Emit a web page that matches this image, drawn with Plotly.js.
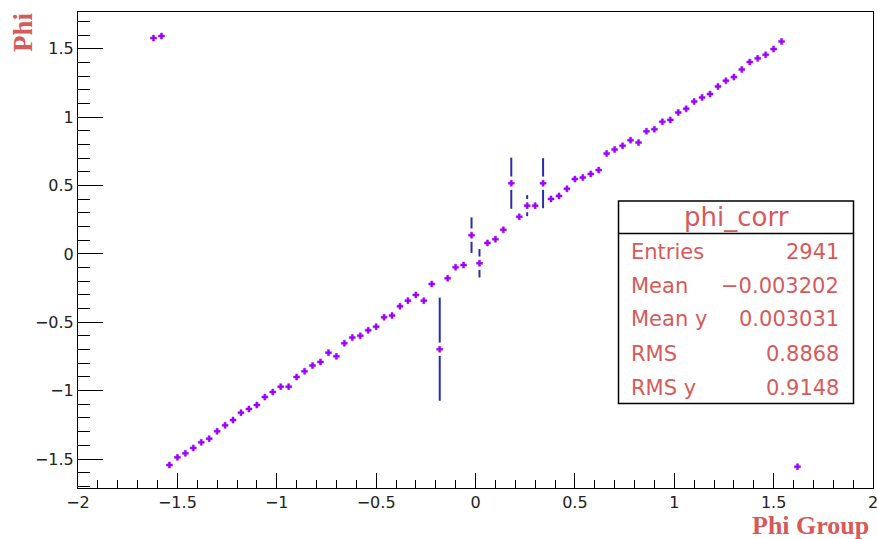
<!DOCTYPE html>
<html>
<head>
<meta charset="utf-8">
<script src="https://cdn.plot.ly/plotly-3.0.1.min.js"></script>
<style>
  html, body { margin: 0; padding: 0; background: #fff; }
  #chart { width: 877px; height: 539px; }
</style>
</head>
<body>
<div id="chart"></div>
<script>
// Bin centres (Phi Group) of the profile
const phiGroup = [-1.62,-1.58,-1.54,-1.50,-1.46,-1.42,-1.38,-1.34,-1.30,-1.26,
  -1.22,-1.18,-1.14,-1.10,-1.06,-1.02,-0.98,-0.94,-0.90,-0.86,
  -0.82,-0.78,-0.74,-0.70,-0.66,-0.62,-0.58,-0.54,-0.50,-0.46,
  -0.42,-0.38,-0.34,-0.30,-0.26,-0.22,-0.18,-0.14,-0.10,-0.06,
  -0.02,0.02,0.06,0.10,0.14,0.18,0.22,0.26,0.30,0.34,
  0.38,0.42,0.46,0.50,0.54,0.58,0.62,0.66,0.70,0.74,
  0.78,0.82,0.86,0.90,0.94,0.98,1.02,1.06,1.10,1.14,
  1.18,1.22,1.26,1.30,1.34,1.38,1.42,1.46,1.50,1.54,
  1.62];
// Mean Phi in each bin
const phiMean = [1.578,1.593,-1.544,-1.488,-1.458,-1.419,-1.378,-1.351,-1.297,-1.253,
  -1.215,-1.161,-1.134,-1.105,-1.047,-1.010,-0.971,-0.971,-0.900,-0.858,
  -0.817,-0.790,-0.722,-0.749,-0.653,-0.612,-0.599,-0.558,-0.532,-0.463,
  -0.451,-0.383,-0.342,-0.300,-0.342,-0.220,-0.697,-0.178,-0.097,-0.082,
  0.137,-0.068,0.080,0.108,0.176,0.517,0.271,0.353,0.353,0.517,
  0.402,0.424,0.476,0.547,0.558,0.585,0.613,0.734,0.763,0.790,
  0.832,0.814,0.897,0.912,0.966,0.980,1.034,1.061,1.115,1.144,
  1.169,1.225,1.266,1.293,1.349,1.403,1.430,1.456,1.498,1.553,
  -1.556];
// Errors (only the visible ones; others are hidden under the marker)
const phiErr = [0,0,0,0,0,0,0,0,0,0,
  0,0,0,0,0,0,0,0,0,0,
  0,0,0,0,0,0,0,0,0,0,
  0,0,0,0,0,0,0.377,0,0,0,
  0.13,0.104,0,0,0,0.187,0,0.077,0,0.183,
  0,0,0,0,0,0,0,0,0,0,
  0,0,0,0,0,0,0,0,0,0,
  0,0,0,0,0,0,0,0,0,0,
  0];
// axis ticks
const xTickVals = [-2,-1.5,-1,-0.5,0,0.5,1,1.5,2];
const yTickVals = [-1.5,-1,-0.5,0,0.5,1,1.5];
// Stats box contents
const statsTitle = "phi_corr";
const statsLabels = ["Entries","Mean","Mean y","RMS","RMS y"];
const statsValues = ["2941","\u22120.003202","0.003031","0.8868","0.9148"];

const errIdx = phiErr.map((e,i)=>e>0?i:-1).filter(i=>i>=0);

const markerColor = '#9a00ff';
const errColor = '#2a2ab4';
const redText = '#d65a5a';

const traces = [
  { // error bars
    type:'scatter', mode:'markers', x:phiGroup, y:phiMean,
    marker:{color:'rgba(0,0,0,0)', size:1},
    error_y:{type:'data', array:phiErr, visible:true, width:0, thickness:2, color:errColor},
    hoverinfo:'skip', showlegend:false
  },
  { // white gap around marker (ROOT style)
    type:'scatter', mode:'markers',
    x:errIdx.map(i=>phiGroup[i]), y:errIdx.map(i=>phiMean[i]),
    marker:{symbol:'line-ns', size:9.5, color:'white', line:{color:'white', width:4}},
    hoverinfo:'skip', showlegend:false
  },
  { // markers
    type:'scatter', mode:'markers', x:phiGroup, y:phiMean,
    marker:{symbol:'cross', size:5, color:markerColor, line:{color:markerColor, width:0.5}},
    showlegend:false
  }
];

// pixel helpers for the stats box (plot area: l=78, t=12, w=795, h=476)
const L=78, T=12, W=795, H=476;
const px = v => (v - L)/W;
const py = v => (T + H - v)/H;

const shapes = [
  {type:'rect', xref:'paper', yref:'paper', x0:px(618.5), x1:px(853.5), y0:py(403.5), y1:py(201),
   line:{color:'#000', width:1.5}, fillcolor:'#fff', layer:'above'},
  {type:'line', xref:'paper', yref:'paper', x0:px(618.5), x1:px(853.5), y0:py(233.5), y1:py(233.5),
   line:{color:'#000', width:1.5}, layer:'above'}
];

const annotations = [
  {xref:'paper', yref:'paper', x:px(736), y:py(217), text:statsTitle, showarrow:false,
   xanchor:'center', yanchor:'middle', font:{family:'DejaVu Sans', size:26, color:redText}}
];
const rowY = [251, 284.5, 318, 352.5, 386.5];
statsLabels.forEach((lab,i)=>{
  annotations.push({xref:'paper', yref:'paper', x:px(629), y:py(rowY[i]+1), text:lab, showarrow:false,
    xanchor:'left', yanchor:'middle', font:{family:'DejaVu Sans', size:21, color:redText}});
  annotations.push({xref:'paper', yref:'paper', x:px(841), y:py(rowY[i]+1), text:statsValues[i], showarrow:false,
    xanchor:'right', yanchor:'middle', font:{family:'DejaVu Sans', size:21, color:redText}});
});
// axis titles, ROOT style placement
annotations.push({xref:'paper', yref:'paper', x:px(870), y:py(525.5), text:'<b>Phi Group</b>', showarrow:false,
  borderpad:0, xanchor:'right', yanchor:'middle', font:{family:'Liberation Serif', size:26, color:redText}});
annotations.push({xref:'paper', yref:'paper', x:px(23), y:py(10), text:'<b>Phi</b>', showarrow:false,
  textangle:-90, xanchor:'center', yanchor:'top', font:{family:'Liberation Serif', size:27, color:redText}});

const layout = {
  width:877, height:539,
  margin:{l:L, r:877-L-W, t:T, b:539-T-H, pad:0},
  paper_bgcolor:'#fff', plot_bgcolor:'#fff',
  font:{family:'DejaVu Sans', size:16, color:'#222'},
  xaxis:{
    range:[-2,2], tickmode:'array', tickvals:xTickVals,
    ticks:'inside', ticklen:15, tickwidth:1, tickcolor:'#000',
    minor:{dtick:0.1, tick0:0, ticks:'inside', ticklen:8, tickwidth:1, tickcolor:'#000', showgrid:false},
    showgrid:false, zeroline:false, showline:true, linecolor:'#000', linewidth:1, mirror:true,
    ticklabeloverflow:'allow',
    tickfont:{family:'DejaVu Sans', size:16, color:'#222'}
  },
  yaxis:{
    range:[-1.712,1.769], tickmode:'array', tickvals:yTickVals,
    ticks:'inside', ticklen:25, tickwidth:1, tickcolor:'#000',
    minor:{dtick:0.1, tick0:0, ticks:'inside', ticklen:12, tickwidth:1, tickcolor:'#000', showgrid:false},
    showgrid:false, zeroline:false, showline:true, linecolor:'#000', linewidth:1, mirror:true,
    tickfont:{family:'DejaVu Sans', size:16, color:'#222'}
  },
  shapes:shapes,
  annotations:annotations,
  showlegend:false
};

Plotly.newPlot('chart', traces, layout, {displayModeBar:false, staticPlot:true});
</script>
</body>
</html>
